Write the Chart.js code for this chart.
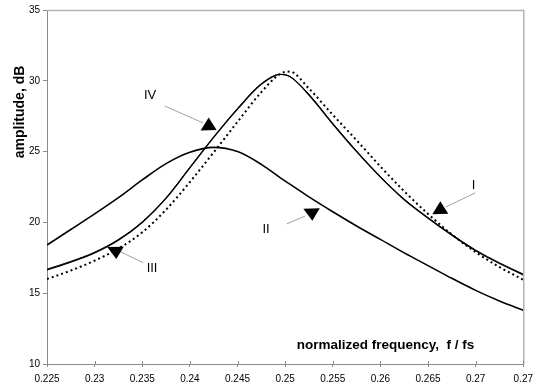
<!DOCTYPE html>
<html>
<head>
<meta charset="utf-8">
<script src="https://cdn.jsdelivr.net/npm/chart.js@4"></script>
<style>
  html, body { margin: 0; padding: 0; background: #fff; }
  #wrap { width: 539px; height: 387px; }
</style>
</head>
<body>
<div id="wrap"><canvas id="chart" width="539" height="387"></canvas></div>
<script>
// normalized frequency f / fs
const freqs = [0.225, 0.2275, 0.23, 0.2325, 0.235, 0.2375, 0.24, 0.2425, 0.245, 0.2475, 0.2495,
  0.2505, 0.2525, 0.255, 0.2575, 0.26, 0.2625, 0.265, 0.2675, 0.27, 0.2725, 0.275];

// amplitude, dB
const curveI   = [16.7, 17.25, 17.9, 18.8, 20.05, 21.75, 23.9, 26.05, 28.05, 29.8, 30.45,
  30.3, 29.05, 27.0, 25.05, 23.25, 21.65, 20.35, 19.15, 18.05, 17.15, 16.35];
const curveII  = [18.4, 19.5, 20.6, 21.75, 23.0, 24.15, 24.95, 25.3, 25.0, 24.1, 23.15,
  22.7, 21.8, 20.75, 19.75, 18.8, 17.85, 16.95, 16.05, 15.2, 14.45, 13.8];
const curveIII = [16.0, 16.6, 17.3, 18.15, 19.3, 20.9, 22.85, 24.95, 27.1, 29.2, 30.5,
  30.65, 29.45, 27.6, 25.8, 23.95, 22.2, 20.6, 19.15, 17.9, 16.85, 15.95];
const curveIV  = [16.65, 17.2, 17.85, 18.75, 20.0, 21.7, 23.85, 26.0, 28.0, 29.75, 30.45,
  30.3, 29.0, 26.95, 25.0, 23.2, 21.6, 20.3, 19.1, 18.0, 17.1, 16.3];

const xTicks = [0.225, 0.23, 0.235, 0.24, 0.245, 0.25, 0.255, 0.26, 0.265, 0.27, 0.275];
const xTickLabels = ['0.225', '0.23', '0.235', '0.24', '0.245', '0.25', '0.255', '0.26', '0.265', '0.27', '0.27'];
const yTicks = [10, 15, 20, 25, 30, 35];

// callouts, placed in data units
const notes = [
  { text: 'IV',  at: [0.23582, 29.0],  from: [0.23737, 28.22], to: [0.24139, 27.02], head: [0.24197, 26.81], dir: 'up' },
  { text: 'III', at: [0.23603, 16.78], from: [0.2351, 17.15],  to: [0.2327, 17.93],  head: [0.23222, 17.98], dir: 'down' },
  { text: 'II',  at: [0.24799, 19.53], from: [0.25015, 19.89], to: [0.25211, 20.45], head: [0.2528, 20.69],  dir: 'down' },
  { text: 'I',   at: [0.26977, 22.64], from: [0.26995, 22.08], to: [0.26686, 21.09], head: [0.26629, 20.89], dir: 'up' },
];

const FONT = '"Liberation Sans", Arial, sans-serif';
const AXIS_GRAY = '#8c8c8c';

function pts(ys) { return freqs.map((f, i) => ({ x: f, y: ys[i] })); }

const extras = {
  id: 'extras',
  afterDraw(chart) {
    const { ctx, chartArea: a, scales: { x, y } } = chart;
    ctx.save();
    // light frame top / right
    ctx.strokeStyle = '#b4b4b4';
    ctx.lineWidth = 1.5;
    ctx.beginPath();
    ctx.moveTo(a.left, a.top + 0.5);
    ctx.lineTo(a.right + 0.5, a.top + 0.5);
    ctx.lineTo(a.right + 0.5, a.bottom);
    ctx.stroke();
    // x ticks cross the axis
    ctx.strokeStyle = AXIS_GRAY;
    ctx.lineWidth = 1;
    xTicks.forEach(t => {
      const px = Math.round(x.getPixelForValue(t)) + 0.5;
      ctx.beginPath();
      ctx.moveTo(px, a.bottom - 3);
      ctx.lineTo(px, a.bottom);
      ctx.stroke();
    });
    // callouts
    notes.forEach(n => {
      ctx.strokeStyle = '#a0a0a0';
      ctx.lineWidth = 1;
      ctx.beginPath();
      ctx.moveTo(x.getPixelForValue(n.from[0]), y.getPixelForValue(n.from[1]));
      ctx.lineTo(x.getPixelForValue(n.to[0]), y.getPixelForValue(n.to[1]));
      ctx.stroke();
      const cx = x.getPixelForValue(n.head[0]), cy = y.getPixelForValue(n.head[1]);
      const tri = n.dir === 'up' ? [[-8, 4.5], [8, 4], [0, -8.5]] : [[-8.5, -4], [8, -4.3], [0.5, 8]];
      ctx.fillStyle = '#000';
      ctx.beginPath();
      ctx.moveTo(cx + tri[0][0], cy + tri[0][1]);
      ctx.lineTo(cx + tri[1][0], cy + tri[1][1]);
      ctx.lineTo(cx + tri[2][0], cy + tri[2][1]);
      ctx.closePath();
      ctx.fill();
      ctx.font = '13px ' + FONT;
      ctx.textAlign = 'center';
      ctx.textBaseline = 'middle';
      ctx.fillText(n.text, x.getPixelForValue(n.at[0]), y.getPixelForValue(n.at[1]));
    });
    // axis titles
    ctx.fillStyle = '#000';
    ctx.font = 'bold 13.5px ' + FONT;
    ctx.textAlign = 'center';
    ctx.textBaseline = 'middle';
    ctx.fillText('normalized frequency,  f / fs', x.getPixelForValue(0.26054), y.getPixelForValue(11.34));
    ctx.translate(20, y.getPixelForValue(27.8));
    ctx.rotate(-Math.PI / 2);
    ctx.font = 'bold 14px ' + FONT;
    ctx.fillText('amplitude, dB', 0, 0);
    ctx.restore();
  }
};

const line = (label, ys, extra) => Object.assign({
  label,
  data: pts(ys),
  borderColor: '#000',
  backgroundColor: '#000',
  borderWidth: 1.3,
  pointRadius: 0,
  cubicInterpolationMode: 'monotone',
  fill: false,
}, extra);

new Chart(document.getElementById('chart'), {
  type: 'line',
  data: {
    datasets: [
      line('II', curveII, { borderWidth: 1.6 }),
      line('III', curveIII, { borderDash: [2, 3], borderWidth: 2 }),
      line('IV', curveIV),
      line('I', curveI, { borderWidth: 1 }),
    ],
  },
  options: {
    responsive: false,
    animation: false,
    layout: { padding: { top: 10, right: 7, left: 0, bottom: 0 }, autoPadding: false },
    plugins: { legend: { display: false }, tooltip: { enabled: false } },
    scales: {
      x: {
        type: 'linear',
        min: 0.225,
        max: 0.275,
        afterBuildTicks: s => { s.ticks = xTicks.map(v => ({ value: v })); },
        afterFit: s => { s.height = 23; },
        ticks: {
          autoSkip: false,
          maxRotation: 0,
          padding: 6,
          color: '#000',
          font: { family: FONT, size: 10 },
          callback: (v, i) => xTickLabels[i],
        },
        grid: { drawOnChartArea: false, tickLength: 3, color: AXIS_GRAY },
        border: { color: AXIS_GRAY },
      },
      y: {
        min: 10,
        max: 35,
        afterBuildTicks: s => { s.ticks = yTicks.map(v => ({ value: v })); },
        afterFit: s => { s.width = 47; },
        ticks: {
          padding: 3,
          color: '#000',
          font: { family: FONT, size: 10 },
        },
        grid: { drawOnChartArea: false, tickLength: 4, color: AXIS_GRAY },
        border: { color: AXIS_GRAY },
      },
    },
  },
  plugins: [extras],
});
</script>
</body>
</html>
